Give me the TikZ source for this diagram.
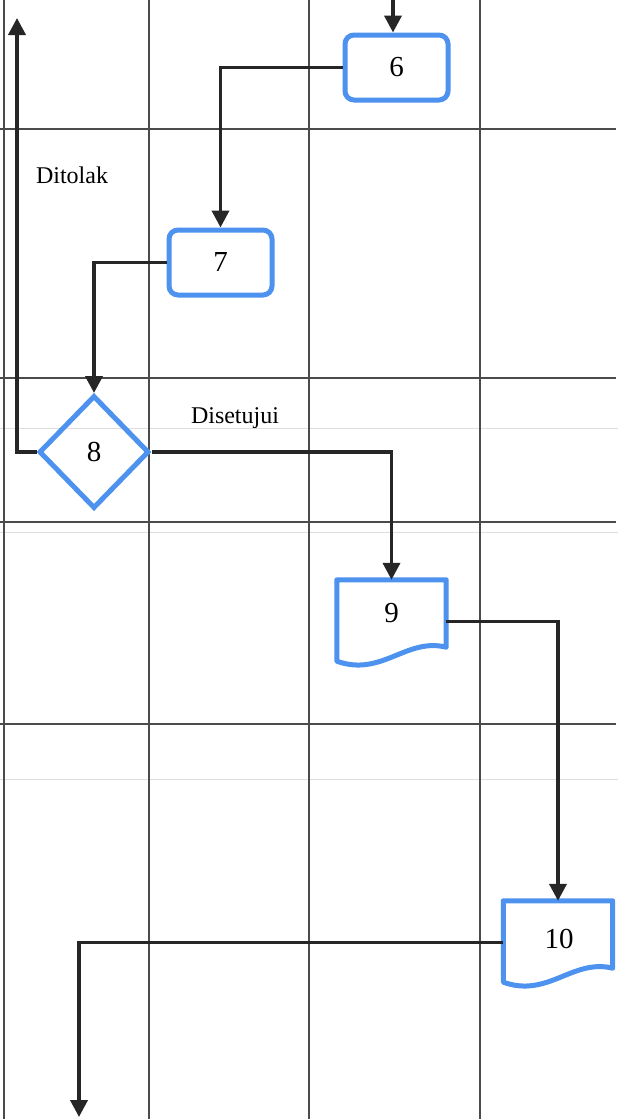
\documentclass[tikz,border=0pt]{standalone}
\usepackage{fontspec}
\setmainfont{Liberation Serif}
\usetikzlibrary{shapes.geometric,arrows.meta,calc}
\definecolor{flowblue}{RGB}{78,146,240}
\definecolor{gridgray}{RGB}{75,75,75}
\definecolor{faintgray}{RGB}{222,222,222}
\tikzset{
  gridline/.style={draw=gridgray,line width=1.2pt},
  faintline/.style={draw=faintgray,line width=1pt},
  procbox/.style={draw=flowblue,line width=5pt,rounded corners=9pt,minimum width=103pt,minimum height=65pt,inner sep=0pt,font=\fontsize{29}{32}\selectfont},
  decbox/.style={diamond,draw=flowblue,line width=5pt,minimum width=110pt,minimum height=113pt,inner sep=0pt,font=\fontsize{29}{32}\selectfont},
  docbox/.style={draw=none,minimum width=109pt,minimum height=83pt,inner sep=0pt},
  docline/.style={draw=flowblue,line width=5pt,line join=round},
  doclabel/.style={font=\fontsize{29}{32}\selectfont,inner sep=0pt},
  arr/.style={draw=black!85,line width=3.8pt,-{Triangle[width=17pt,length=17pt]}},
  lbl/.style={font=\fontsize{24}{27}\selectfont,inner sep=0pt}
}
\begin{document}
\begin{tikzpicture}[x=1pt,y=-1pt]
\useasboundingbox (0,0) rectangle (618,1119);
\fill[white] (0,0) rectangle (618,1119);
% faint lines
\draw[faintline] (0,428) -- (618,428);
\draw[faintline] (0,532) -- (618,532);
\draw[faintline] (0,779) -- (618,779);
% grid
\foreach \x in {4,149,309,480} {\draw[gridline] (\x,0) -- (\x,1119);}
\foreach \y in {129,378,522,724} {\draw[gridline] (0,\y) -- (616,\y);}
% nodes
\node[procbox] (n6) at (396.5,67.5) {6};
\node[procbox] (n7) at (220.5,262.5) {7};
\node[decbox] (n8) at (94,452) {8};
\node[docbox] (n9) at (391.5,621.5) {};
\draw[docline] (n9.north west) -- (n9.north east) -- ($(n9.south east)+(0,-16)$)
  .. controls ($(n9.south east)+(-40,-26)$) and ($(n9.south west)+(45,14)$) .. ($(n9.south west)+(0,-2)$) -- cycle;
\node[doclabel] (l9) at ($(n9)+(0,-8)$) {9};
\node[docbox] (n10) at (558,942.5) {};
\draw[docline] (n10.north west) -- (n10.north east) -- ($(n10.south east)+(0,-16)$)
  .. controls ($(n10.south east)+(-40,-26)$) and ($(n10.south west)+(45,14)$) .. ($(n10.south west)+(0,-2)$) -- cycle;
\node[doclabel] (l10) at ($(n10)+(1,-4)$) {10};
% connectors
\coordinate (in6) at (393,0);
\draw[arr] (in6) -- (in6 |- n6.north);
\draw[arr] (n6.west) -| (n7.north);
\draw[arr] (n7.west) -| (n8.north);
\coordinate (upend) at (17,18);
\draw[arr] (n8.west) -| (upend);
\draw[arr] (n8.east) -| (n9.north);
\draw[arr] (n9.east) -| (n10.north);
\coordinate (downend) at (79,1117);
\draw[arr] (n10.west) -| (downend);
% labels
\node[lbl] (ditolak) at (72,175) {Ditolak};
\node[lbl] (disetujui) at (235,418) {Disetujui};
\end{tikzpicture}
\end{document}
